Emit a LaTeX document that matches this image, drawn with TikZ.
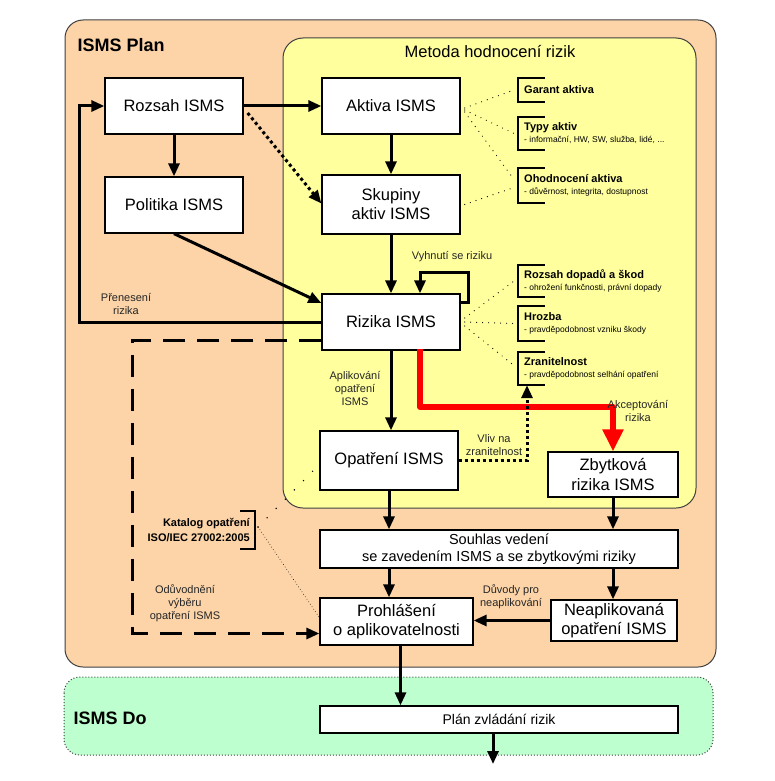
\documentclass[tikz,border=0pt]{standalone}
\usepackage{fontspec}
\setmainfont{Liberation Sans}
\usetikzlibrary{arrows.meta,positioning}

\definecolor{planfill}{RGB}{252,212,168}
\definecolor{metfill}{RGB}{255,255,158}
\definecolor{dofill}{RGB}{190,255,208}
\newcommand{\detail}[1]{{\fontsize{8.5}{10}\selectfont\mdseries #1}}

\begin{document}
\begin{tikzpicture}[x=1pt,y=-1pt,>={Triangle[length=13pt,width=11pt]},
  box/.style={draw,fill=white,line width=1.3pt,align=center,font=\fontsize{16.5}{19}\selectfont},
  flow/.style={->,line width=3pt},
  lbl/.style={align=center,text=black!85,font=\fontsize{11}{13}\selectfont},
  brk/.style={anchor=west,align=left,inner xsep=6pt,font=\bfseries\fontsize{11}{12}\selectfont},
  fan/.style={line width=1.2pt,dash pattern=on 0pt off 6pt,line cap=round}]
  \useasboundingbox (0,0) rectangle (775,781);

  % areas
  \draw[fill=planfill,draw=black!75,line width=1pt,rounded corners=18pt] (65,20) rectangle (716,667);
  \draw[fill=metfill,draw=black!75,line width=1pt,rounded corners=20pt] (283,38) rectangle (696,508);
  \draw[fill=dofill,draw=black!75,line width=1pt,dotted,rounded corners=16pt] (64,677) rectangle (713,755);
  \node[anchor=west,font=\bfseries\fontsize{18}{20}\selectfont] (plan) at (74,45) {ISMS Plan};
  \node[font=\fontsize{16.5}{19}\selectfont] (met) at (490,52) {Metoda hodnocení rizik};
  \node[anchor=west,font=\bfseries\fontsize{18}{20}\selectfont] (do) at (70,718) {ISMS Do};

  % boxes
  \node[box,minimum width=138pt,minimum height=56pt] (rozsah) at (174,106) {Rozsah ISMS};
  \node[box,minimum width=138pt,minimum height=56pt] (polit) at (174,205) {Politika ISMS};
  \node[box,minimum width=138pt,minimum height=56pt] (aktiva) at (391,106) {Aktiva ISMS};
  \node[box,minimum width=138pt,minimum height=59pt] (skup) at (391,204.5) {Skupiny\\aktiv ISMS};
  \node[box,minimum width=138pt,minimum height=56pt] (rizika) at (391,322) {Rizika ISMS};
  \node[box,minimum width=138pt,minimum height=59pt] (opat) at (389,460.5) {Opatření ISMS};
  \node[box,minimum width=130pt,minimum height=45pt,inner sep=2pt] (zbyt) at (613,474.5) {Zbytková\\rizika ISMS};
  \node[box,minimum width=358pt,minimum height=38pt,inner sep=2pt,font=\fontsize{14.5}{17}\selectfont] (souhlas) at (499,549) {Souhlas vedení\\se zavedením ISMS a se zbytkovými riziky};
  \node[box,minimum width=153pt,minimum height=47pt,inner sep=2pt] (prohl) at (396.5,621.5) {Prohlášení\\o aplikovatelnosti};
  \node[box,minimum width=126pt,minimum height=41pt,inner sep=2pt] (neapl) at (614,620.5) {Neaplikovaná\\opatření ISMS};
  \node[box,minimum width=358pt,minimum height=27pt,font=\fontsize{14}{16}\selectfont] (planriz) at (499,719.5) {Plán zvládání rizik};
  \coordinate (out) at (493,764);

  % attributes
  \node[brk,minimum height=24pt] (ga) at (518,90) {Garant aktiva};
  \node[brk,minimum height=33pt] (ty) at (518,133.5) {Typy aktiv\\\detail{- informační, HW, SW, služba, lidé, ...}};
  \node[brk,minimum height=35pt] (oh) at (518,185.5) {Ohodnocení aktiva\\\detail{- důvěrnost, integrita, dostupnost}};
  \node[brk,minimum height=32pt] (rd) at (518,281) {Rozsah dopadů a škod\\\detail{- ohrožení funkčnosti, právní dopady}};
  \node[brk,minimum height=35pt] (hr) at (518,323.5) {Hrozba\\\detail{- pravděpodobnost vzniku škody}};
  \node[brk,minimum height=33pt] (zr) at (518,368.5) {Zranitelnost\\\detail{- pravděpodobnost selhání opatření}};
  \draw[line width=1.5pt] ([xshift=27pt]ga.north west) -- (ga.north west) -- (ga.south west) -- ([xshift=27pt]ga.south west);
  \draw[line width=1.5pt] ([xshift=27pt]ty.north west) -- (ty.north west) -- (ty.south west) -- ([xshift=27pt]ty.south west);
  \draw[line width=1.5pt] ([xshift=27pt]oh.north west) -- (oh.north west) -- (oh.south west) -- ([xshift=27pt]oh.south west);
  \draw[line width=1.5pt] ([xshift=27pt]rd.north west) -- (rd.north west) -- (rd.south west) -- ([xshift=27pt]rd.south west);
  \draw[line width=1.5pt] ([xshift=27pt]hr.north west) -- (hr.north west) -- (hr.south west) -- ([xshift=27pt]hr.south west);
  \draw[line width=1.5pt] ([xshift=27pt]zr.north west) -- (zr.north west) -- (zr.south west) -- ([xshift=27pt]zr.south west);
  \node[anchor=east,align=right,inner xsep=5pt,minimum height=38pt,font=\bfseries\fontsize{11}{15}\selectfont] (kat) at (255,530) {Katalog opatření\\ISO/IEC 27002:2005};
  \draw[line width=1.5pt] ([xshift=-15pt]kat.north east) -- (kat.north east) -- (kat.south east) -- ([xshift=-15pt]kat.south east);

  % dotted links to attributes
  \draw[fan] ([xshift=4pt,yshift=-2pt]aktiva.east) -- ([xshift=-4pt]ga.west);
  \draw[fan] ([xshift=4pt,yshift=-4pt]aktiva.east) -- ([xshift=-4pt]ty.west);
  \draw[fan] ([xshift=4pt,yshift=-6pt]aktiva.east) -- ([xshift=-4pt,yshift=6pt]oh.west);
  \draw[fan] ([xshift=4pt]skup.east) -- ([xshift=-4pt,yshift=-2pt]oh.west);
  \draw[fan] ([xshift=4pt,yshift=4pt]rizika.east) -- ([xshift=-4pt]rd.west);
  \draw[fan] ([xshift=4pt]rizika.east) -- ([xshift=-4pt]hr.west);
  \draw[fan] ([xshift=4pt,yshift=-4pt]rizika.east) -- ([xshift=-4pt,yshift=3pt]zr.west);
  \draw[fan,line width=1.6pt,dash pattern=on 0pt off 13pt] ([xshift=3pt,yshift=3pt]kat.east) -- ([xshift=-4pt,yshift=-8pt]opat.west);
  \draw[line width=0.6pt,dash pattern=on 0.6pt off 2.4pt] ([xshift=3pt,yshift=3pt]kat.east) -- ([yshift=4pt]prohl.west);

  % arrows
  \draw[flow] (rozsah) -- (aktiva);
  \draw[flow] (rozsah) -- (polit);
  \draw[flow] (aktiva) -- (skup);
  \draw[flow,dash pattern=on 3pt off 3pt] ([xshift=4pt,yshift=-7pt]rozsah.east) -- ([yshift=1pt]skup.west);
  \draw[flow] (polit.south) -- ([yshift=19pt]rizika.west);
  \draw[flow] (skup) -- (rizika);
  \draw[flow] ([yshift=20pt]rizika.east) -| ([xshift=8pt,yshift=50pt]rizika.east) -| ([xshift=29pt]rizika.north);
  \node[lbl] (vyh) at (452,257) {Vyhnutí se riziku};
  \draw[flow] (rizika.west) -| ([xshift=-25pt]rozsah.west) -- (rozsah.west);
  \node[lbl] (pren) at (126,304) {Přenesení\\rizika};
  \draw[flow,dash pattern=on 22pt off 12pt] ([yshift=-18pt]rizika.west) -| ([xshift=-187pt,yshift=-12pt]prohl.west) -- ([yshift=-12pt]prohl.west);
  \node[lbl] (oduv) at (185,603) {Odůvodnění\\výběru\\opatření ISMS};
  \draw[flow] (rizika.south) -- (rizika.south |- opat.north);
  \node[lbl] (apl) at (355,388) {Aplikování\\opatření\\ISMS};
  \coordinate (acc) at (613,407);
  \draw[red,line width=6pt,line join=round,-{Triangle[length=22pt,width=20pt]}] ([xshift=29pt,yshift=2pt]rizika.south) |- (acc) -- (zbyt.north);
  \node[lbl] (akc) at (638,411) {Akceptování\\rizika};
  \node[lbl] (vliv) at (494,445) {Vliv na\\zranitelnost};
  \draw[flow,dash pattern=on 3pt off 3pt] (opat.east) -| ([xshift=9pt]zr.south west);
  \draw[flow] (opat.south) -- (opat.south |- souhlas.north);
  \draw[flow] (zbyt.south) -- (zbyt.south |- souhlas.north);
  \draw[flow] (souhlas.south -| opat) -- (opat |- prohl.north);
  \draw[flow] (souhlas.south -| zbyt) -- (zbyt |- neapl.north);
  \draw[flow] (neapl.west) -- (neapl.west -| prohl.east);
  \node[lbl] (duv) at (511,597) {Důvody pro\\neaplikování};
  \draw[flow] ([xshift=4pt]prohl.south) -- ([xshift=4pt]prohl.south |- planriz.north);
  \draw[flow] (planriz.south -| out) -- (out);
\end{tikzpicture}
\end{document}
